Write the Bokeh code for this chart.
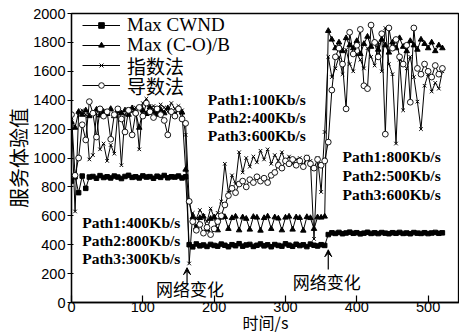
from bokeh.plotting import figure
from bokeh.models import Range1d, FixedTicker, Legend, LegendItem, Label, Arrow, VeeHead
from bokeh.embed import file_html
from bokeh.resources import INLINE

# time axis (s): three phases of the experiment
t_early = list(range(0, 161, 5))
t_mid = list(range(165, 356, 5))
t_late = list(range(360, 521, 5))
time_s = t_early + t_mid + t_late

max_cwnd = ([840, 870, 760, 875, 790, 868, 872, 860, 878, 865, 870, 862, 875, 868, 858, 872, 880,
             866, 870, 862, 876, 868, 871, 860, 874, 866, 879, 863, 870, 868, 875, 862, 870]
            + [400, 385, 405, 392, 398, 388, 402, 395, 390, 404, 396, 386, 400, 393, 407, 390, 398,
               402, 388, 396, 405, 392, 399, 386, 401, 395, 390, 406, 397, 389, 403, 394, 399, 387,
               404, 396, 391, 400, 395]
            + [470, 482, 478, 485, 476, 481, 487, 479, 483, 475, 480, 486, 478, 482, 477, 484, 480,
               476, 483, 479, 485, 478, 481, 476, 484, 480, 478, 483, 477, 481, 485, 479, 482])

max_cob = ([1250, 1210, 1320, 1300, 1330, 1290, 1310, 1335, 1295, 1320, 1305, 1340, 1290, 1325, 1310,
            1330, 1300, 1345, 1315, 1210, 1330, 1305, 1350, 1320, 1300, 1335, 1310, 1345, 1320, 1300,
            1335, 1315, 920]
           + [700, 590, 520, 585, 595, 505, 580, 590, 500, 588, 592, 510, 585, 595, 500, 590, 580, 505,
              593, 588, 498, 585, 596, 510, 590, 582, 500, 588, 595, 505, 590, 586, 498, 592, 585, 510,
              590, 588, 595]
           + [1880, 1820, 1760, 1800, 1740, 1830, 1780, 1760, 1810, 1720, 1790, 1840, 1770, 1800, 1750,
              1820, 1780, 1730, 1800, 1760, 1830, 1770, 1740, 1810, 1780, 1750, 1820, 1790, 1760, 1800,
              1740, 1780, 1760])

zhishu = ([1280, 630, 1310, 1330, 1300, 990, 1020, 1310, 1060, 1100, 980, 1090, 1030, 1320, 950, 1300,
           1340, 1320, 1350, 1060, 1380, 1410, 1340, 1360, 1330, 1370, 1350, 1320, 1380, 1340, 1360,
           1330, 1160]
          + [270, 620, 580, 640, 600, 560, 650, 590, 620, 700, 960, 760, 880, 820, 1040, 900, 1000, 940,
             1010, 970, 1050, 990, 1060, 960, 1020, 980, 1040, 970, 1010, 960, 990, 1000, 950, 1010, 980,
             440, 1000, 765, 1180]
          + [1700, 1560, 1620, 1700, 1580, 1750, 1650, 1600, 1720, 1680, 1620, 1760, 1700, 1640, 1800,
             1600, 1900, 1650, 1580, 1100, 1680, 1330, 1620, 1700, 1560, 1390, 1200, 1500, 1580, 1460,
             1520, 1480, 1600])

daoshu = ([1300, 880, 1000, 1230, 1125, 1390, 1310, 1145, 1340, 1290, 1320, 1130, 1300, 1340, 1270,
           1180, 1330, 1160, 1310, 1350, 1290, 1380, 1320, 1280, 1340, 1300, 1260, 1160, 1320, 1290,
           1340, 1270, 1240]
          + [700, 560, 500, 540, 480, 520, 470, 510, 560, 600, 675, 740, 790, 760, 820, 840, 800, 850,
             830, 870, 840, 860, 830, 880, 900, 950, 930, 980, 960, 990, 950, 980, 940, 1000, 960, 930,
             990, 950, 980]
          + [1110, 1470, 1700, 1760, 1650, 1340, 1870, 1720, 1780, 1890, 1500, 1480, 1920, 1800, 1700,
             1860, 1165, 1900, 1760, 1820, 1700, 1650, 1780, 1386, 1900, 1620, 1580, 1650, 1600, 1560,
             1640, 1580, 1620])

series_names = ["Max CWND", "Max (C-O)/B", "指数法", "导数法"]
x_ticks = [0, 100, 200, 300, 400, 500]
y_ticks = [0, 200, 400, 600, 800, 1000, 1200, 1400, 1600, 1800, 2000]

p = figure(width=459, height=336, output_backend="svg", toolbar_location=None,
           x_range=Range1d(0, 544), y_range=Range1d(0, 2000),
           min_border_left=71, min_border_right=0, min_border_top=13, min_border_bottom=34)
p.background_fill_color = "white"
p.border_fill_color = "white"
p.outline_line_color = "black"
p.outline_line_width = 1.3
p.xgrid.visible = False
p.ygrid.visible = False

# axes
p.xaxis.ticker = FixedTicker(ticks=x_ticks)
p.yaxis.ticker = FixedTicker(ticks=y_ticks)
for ax in (p.xaxis[0], p.yaxis[0]):
    ax.axis_line_color = "black"
    ax.axis_line_width = 1.3
    ax.major_tick_line_color = "black"
    ax.major_tick_line_width = 1.2
    ax.minor_tick_line_color = None
    ax.major_label_text_font = "Liberation Sans"
    ax.major_label_text_font_size = "14.5px"
    ax.major_label_text_color = "black"
    ax.axis_label_text_font_style = "normal"
    ax.axis_label_text_color = "black"
    ax.axis_label_text_font = "Noto Sans CJK SC"
p.xaxis.major_tick_in = 7
p.xaxis.major_tick_out = 0
p.yaxis.major_tick_in = 2
p.yaxis.major_tick_out = 4
p.xaxis.major_label_standoff = -1
p.yaxis.major_label_standoff = 2
p.xaxis.axis_label = "时间/s"
p.yaxis.axis_label = "服务体验值"
p.xaxis.axis_label_text_font_size = "16px"
p.yaxis.axis_label_text_font_size = "20px"
p.xaxis.axis_label_standoff = -5
p.yaxis.axis_label_standoff = -3

# series
l1 = p.line(time_s, max_cwnd, line_color="black", line_width=1)
s1 = p.scatter(time_s, max_cwnd, marker="square", size=4.5, fill_color="black", line_color="black")
l2 = p.line(time_s, max_cob, line_color="black", line_width=1)
s2 = p.scatter(time_s, max_cob, marker="triangle", size=5.5, fill_color="black", line_color="black")
l3 = p.line(time_s, zhishu, line_color="black", line_width=1)
s3 = p.scatter(time_s, zhishu, marker="x", size=5, line_color="black", line_width=1)
l4 = p.line(time_s, daoshu, line_color="black", line_width=1)
s4 = p.scatter(time_s, daoshu, marker="circle", size=5.8, fill_color="white", line_color="black",
               line_width=0.9)

# legend: one row per Legend so rows sit at exact heights
rows = [(series_names[0], [l1, s1], 263), (series_names[1], [l2, s2], 243),
        (series_names[2], [l3, s3], 223), (series_names[3], [l4, s4], 203)]
for name, rends, ly in rows:
    lg = Legend(items=[LegendItem(label=name, renderers=rends)], location=(11, ly))
    lg.margin = 0
    lg.padding = 0
    lg.spacing = 0
    lg.label_height = 28
    lg.glyph_height = 14
    lg.glyph_width = 38
    lg.label_standoff = 7
    lg.border_line_color = None
    lg.background_fill_alpha = 0
    lg.label_text_font = "Liberation Serif, Noto Sans CJK SC"
    lg.label_text_font_size = "19px"
    lg.label_text_color = "black"
    p.add_layout(lg, "center")

# annotations
def path_label(x, y, text):
    p.add_layout(Label(x=x, y=y, text=text, text_font="Liberation Serif", text_font_style="bold",
                       text_font_size="15.5px", text_baseline="middle", text_color="black"))

for y, txt in zip([552, 428, 303], ["Path1:400Kb/s", "Path2:800Kb/s", "Path3:300Kb/s"]):
    path_label(15, y, txt)
for y, txt in zip([1407, 1283, 1159], ["Path1:100Kb/s", "Path2:400Kb/s", "Path3:600Kb/s"]):
    path_label(191, y, txt)
for y, txt in zip([1007, 876, 745], ["Path1:800Kb/s", "Path2:500Kb/s", "Path3:600Kb/s"]):
    path_label(380, y, txt)

for x, y in [(166, 97), (358, 145)]:
    p.add_layout(Label(x=x, y=y, text="网络变化", text_font="Noto Sans CJK SC",
                       text_font_size="17px", text_align="center", text_baseline="middle",
                       text_color="black"))

for x, y0, y1 in [(162, 124, 241), (360, 228, 365)]:
    p.add_layout(Arrow(end=VeeHead(size=7, fill_color="black", line_color="black"),
                       x_start=x, y_start=y0, x_end=x, y_end=y1, line_color="black", line_width=1.2))

open("out.html", "w").write(file_html(p, INLINE))
